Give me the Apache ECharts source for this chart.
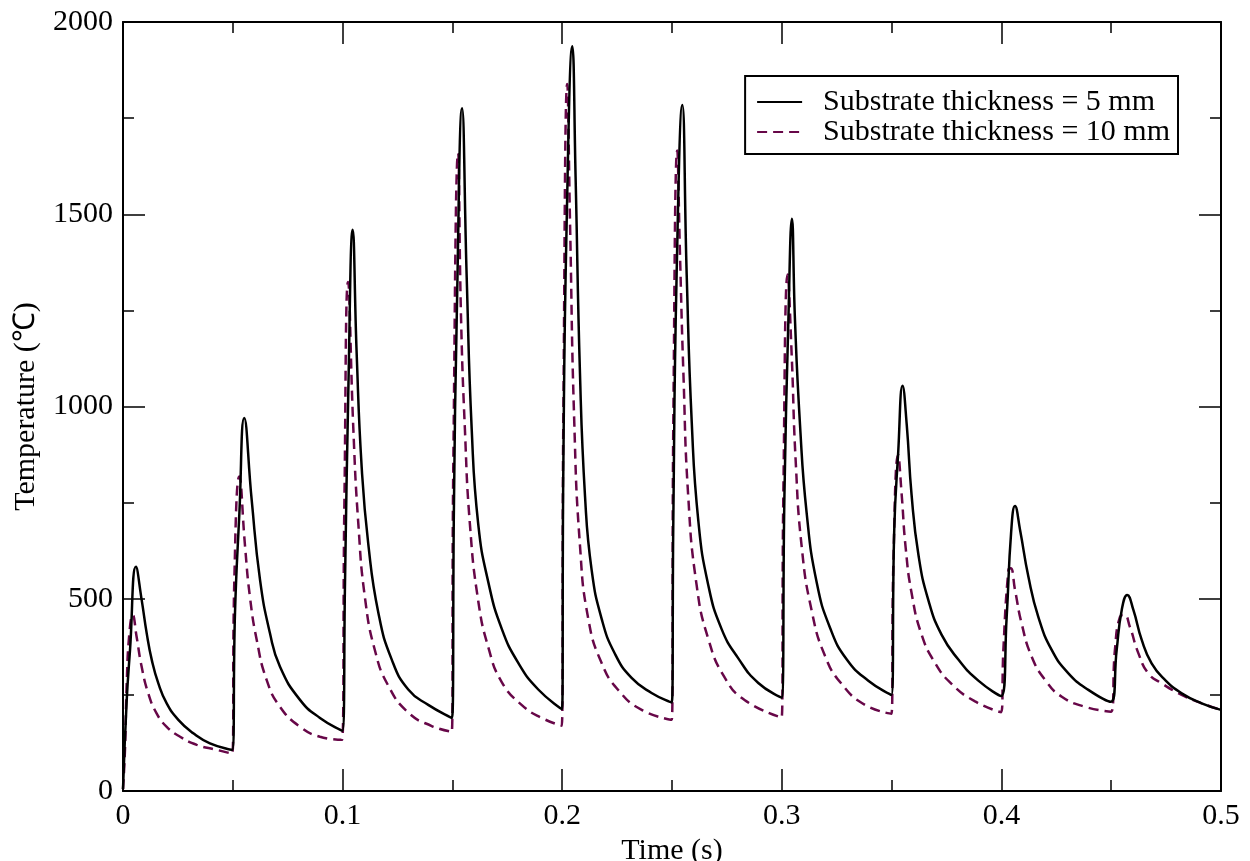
<!DOCTYPE html>
<html>
<head>
<meta charset="utf-8">
<script src="https://cdn.jsdelivr.net/npm/echarts@6/dist/echarts.min.js"></script>
<style>
html,body{margin:0;padding:0;background:#fff;}
#chart{width:1250px;height:861px;}
</style>
</head>
<body>
<div id="chart"></div>
<script>
// ---- data ----
var seriesNames = ['Substrate thickness = 5 mm', 'Substrate thickness = 10 mm'];
var xTicks = [0, 0.1, 0.2, 0.3, 0.4, 0.5];
var yTicks = [0, 500, 1000, 1500, 2000];

var time5 = [0,0.0017,0.0032,0.0059,0.0085,0.0108,0.0131,0.0161,0.0199,0.0252,0.032,0.0396,0.0497,
  0.051,0.053,0.0552,0.0586,0.0624,0.0669,0.0715,0.0806,0.0897,0.0999,
  0.1011,0.1026,0.1046,0.1064,0.1087,0.1117,0.1163,0.1223,0.1299,0.139,0.1498,
  0.1507,0.152,0.1544,0.1565,0.1588,0.1618,0.1664,0.1724,0.18,0.1891,0.1999,
  0.2005,0.202,0.2046,0.2061,0.2081,0.2104,0.2134,0.218,0.224,0.2316,0.2407,0.2499,
  0.2506,0.2521,0.2547,0.2567,0.259,0.262,0.2665,0.2726,0.2802,0.2893,0.2999,
  0.3012,0.303,0.3046,0.306,0.3083,0.3113,0.3159,0.322,0.3296,0.3394,0.3499,
  0.3512,0.353,0.355,0.3569,0.3591,0.3622,0.3667,0.3728,0.3804,0.3895,0.3999,
  0.4024,0.4044,0.4062,0.4085,0.4123,0.4168,0.4229,0.4305,0.4396,0.4499,
  0.4525,0.4548,0.4573,0.4601,0.4639,0.4684,0.4745,0.4821,0.4912,0.5];
var temp5 = [5,237,367,583,497,410,341,280,228,185,150,124,107,
  463,723,970,757,549,411,323,237,190,157,
  542,1040,1460,1139,841,642,463,343,264,224,190,
  741,1239,1776,1338,940,692,542,423,333,264,213,
  830,1469,1937,1597,1085,766,575,447,357,294,255,230,
  702,1341,1784,1341,958,702,536,421,345,281,243,
  770,1225,1488,1225,952,724,542,424,342,287,250,
  679,880,1054,952,770,615,497,406,342,287,247,
  453,670,741,679,557,453,367,306,263,232,
  367,471,510,471,393,332,289,254,228,211];

var time10 = [0,0.0009,0.0017,0.0029,0.0044,0.0062,0.0085,0.0115,0.0153,0.0199,0.026,0.0336,0.0427,0.0497,
  0.0507,0.053,0.0556,0.0578,0.0609,0.0654,0.0715,0.0806,0.0897,0.0997,
  0.1008,0.1025,0.1049,0.1072,0.1102,0.1148,0.1208,0.1299,0.1406,0.1497,
  0.1504,0.1526,0.1539,0.1557,0.158,0.1618,0.1664,0.1724,0.1815,0.1907,0.1998,
  0.2005,0.2023,0.2036,0.2055,0.2081,0.2119,0.218,0.2256,0.2362,0.2499,
  0.2506,0.2524,0.2536,0.2552,0.2574,0.2612,0.2665,0.2741,0.2832,0.2999,
  0.3007,0.3027,0.3045,0.3063,0.3091,0.3136,0.3197,0.3273,0.3379,0.3499,
  0.3508,0.353,0.3546,0.3564,0.3591,0.3637,0.3698,0.3774,0.388,0.3999,
  0.4009,0.4032,0.4042,0.4062,0.4092,0.4138,0.4199,0.4275,0.4381,0.4499,
  0.4517,0.454,0.456,0.4585,0.4624,0.4669,0.473,0.4821,0.4912,0.5];
var temp10 = [5,107,280,410,458,401,323,254,202,167,141,120,107,97,
  549,818,635,505,393,289,219,167,141,133,
  741,1324,940,692,502,364,274,204,169,154,
  841,1659,1239,940,692,493,373,284,224,190,170,
  958,1839,1468,958,638,447,332,262,211,185,
  958,1666,1404,1085,766,536,396,294,236,191,
  770,1343,1134,861,633,469,351,278,224,201,
  588,874,770,633,515,406,333,278,233,205,
  367,575,579,523,436,349,289,245,219,206,
  367,453,458,427,358,306,280,250,228,211];

function zip(a, b) { var r = []; for (var i = 0; i < a.length; i++) r.push([a[i], b[i]]); return r; }

var FONT = 'Liberation Serif';
var chart = echarts.init(document.getElementById('chart'), null, {renderer: 'canvas'});

function xAxisCfg(pos, showLabel, name) {
  return {
    type: 'value', position: pos, min: xTicks[0], max: xTicks[xTicks.length - 1], interval: 0.1,
    name: name || '', nameLocation: 'middle', nameGap: 38,
    nameTextStyle: {fontFamily: FONT, fontSize: 30, color: '#000'},
    axisLine: {show: true, onZero: false, lineStyle: {color: '#000', width: 2}},
    axisTick: {show: true, inside: true, length: 22, lineStyle: {color: '#000', width: 1.5}},
    minorTick: {show: true, splitNumber: 2, length: 11, lineStyle: {color: '#000', width: 1.5}},
    axisLabel: {show: showLabel, margin: 10, fontFamily: FONT, fontSize: 30, color: '#000',
      formatter: function (v) { return String(+v.toFixed(2)); }},
    splitLine: {show: false}
  };
}
function yAxisCfg(pos, showLabel, name) {
  return {
    type: 'value', position: pos, min: yTicks[0], max: yTicks[yTicks.length - 1], interval: 500,
    name: name || '', nameLocation: 'middle', nameGap: 82,
    nameTextStyle: {fontFamily: FONT, fontSize: 30, color: '#000'},
    axisLine: {show: true, onZero: false, lineStyle: {color: '#000', width: 2}},
    axisTick: {show: true, inside: true, length: 22, lineStyle: {color: '#000', width: 1.5}},
    minorTick: {show: true, splitNumber: 2, length: 11, lineStyle: {color: '#000', width: 1.5}},
    axisLabel: {show: showLabel, margin: 10, fontFamily: FONT, fontSize: 30, color: '#000',
      formatter: function (v) { return String(v); }},
    splitLine: {show: false}
  };
}

chart.setOption({
  animation: false,
  backgroundColor: '#fff',
  grid: {left: 123, right: 29, top: 22, bottom: 70, containLabel: false, outerBoundsMode: 'none'},
  xAxis: [xAxisCfg('bottom', true, 'Time (s)'), xAxisCfg('top', false)],
  yAxis: [yAxisCfg('left', true, 'Temperature (℃)'), yAxisCfg('right', false)],
  legend: {
    orient: 'vertical', right: 72, top: 76,
    backgroundColor: '#fff', borderColor: '#000', borderWidth: 2,
    padding: [11, 8, 7, 11], itemGap: 0, itemWidth: 45, itemHeight: 14,
    itemStyle: {opacity: 0},
    textStyle: {fontFamily: FONT, fontSize: 30, color: '#000', lineHeight: 30, padding: [0, 0, 0, 16]},
    data: seriesNames
  },
  series: [
    {name: seriesNames[0], type: 'line', xAxisIndex: 0, yAxisIndex: 0, data: zip(time5, temp5),
      symbol: 'none', smooth: 0.5,
      lineStyle: {color: '#000', width: 2.5}, itemStyle: {color: '#000'}, z: 3},
    {name: seriesNames[1], type: 'line', xAxisIndex: 0, yAxisIndex: 0, data: zip(time10, temp10),
      symbol: 'none', smooth: 0.5,
      lineStyle: {color: '#670748', width: 2.5, type: [10, 6]}, itemStyle: {color: '#670748'}, z: 2}
  ]
});
</script>
</body>
</html>
